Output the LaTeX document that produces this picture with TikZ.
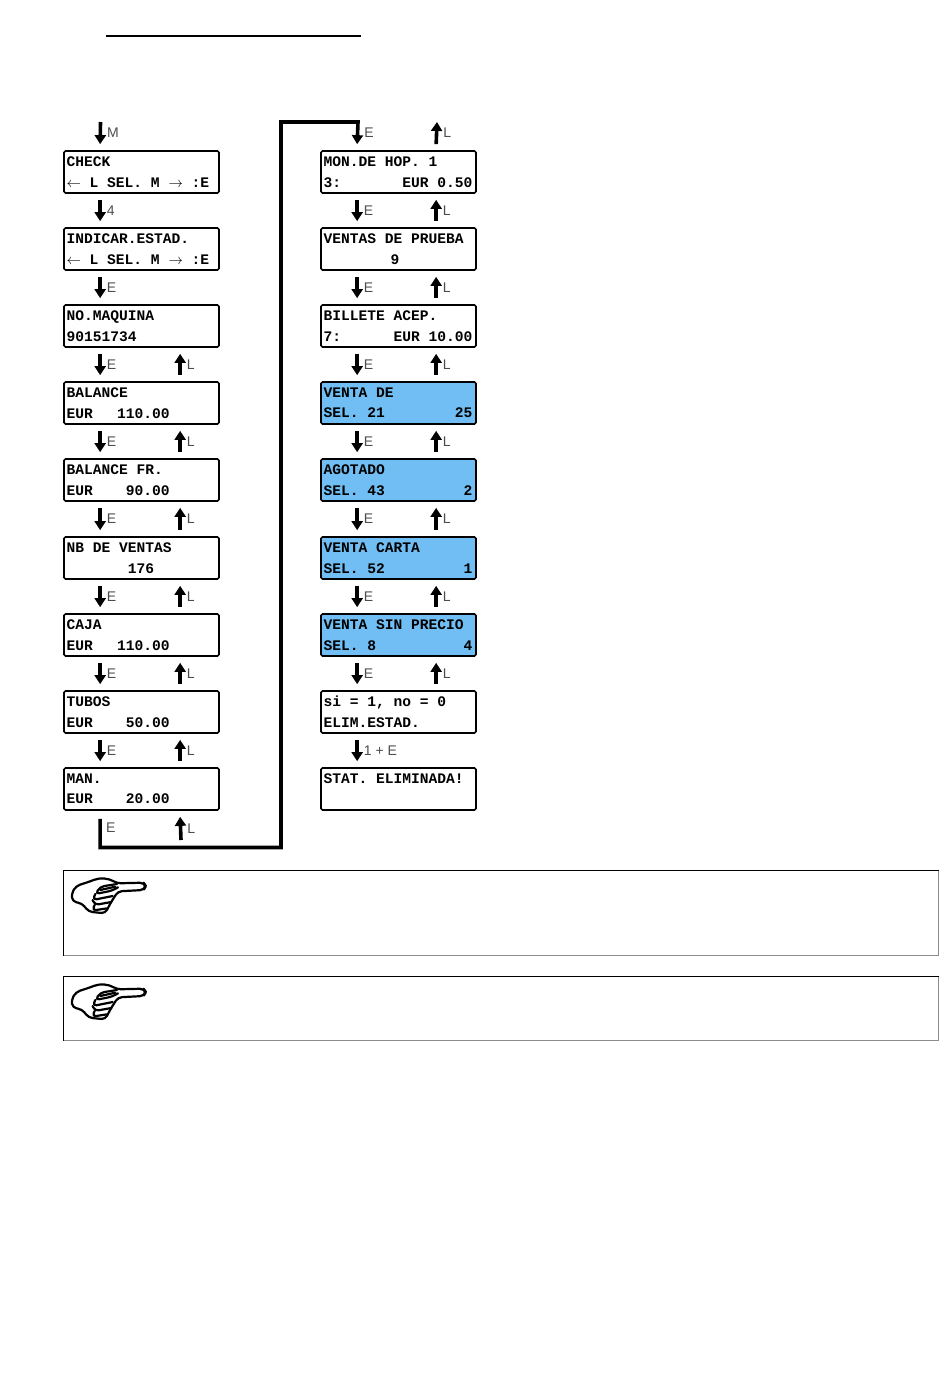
\documentclass[tikz,border=0pt]{standalone}
\usepackage{fontspec}
\setmainfont{Liberation Sans}
\setmonofont{Liberation Mono}[BoldFont={Liberation Mono Bold}]
\usetikzlibrary{calc,arrows.meta}
\definecolor{lcdblue}{RGB}{112,190,243}
\tikzset{
	lcd/.style={draw=black, line width=1.7pt, rounded corners=1.5pt, minimum height=42pt, text width=150pt, inner xsep=2.5pt, inner ysep=0pt, align=left, font=\fontsize{14.6}{20.5}\selectfont\ttfamily\bfseries, execute at begin node={\spaceskip=8.76pt\xspaceskip=8.76pt\relax}},
	lcdfill/.style={lcd, fill=lcdblue},
	flow/.style={draw=black, line width=3.6pt, -{Triangle[width=11pt,length=9pt]}},
	key/.style={font=\fontsize{14}{14}\selectfont, text=black!70, inner sep=0pt, anchor=west},
	note/.style={draw=black!45, line width=0.9pt},
	noteedge/.style={draw=black, line width=0.8pt},
}
\newcommand{\handicon}[2]{
	\begin{scope}[shift={(#1,#2)}, x=0.3333pt, y=-0.3333pt, line width=2.2pt, line join=round, line cap=round, rounded corners=4pt]
		\draw (165,40) .. controls (140,25) and (115,22) .. (85,34) -- (42,48) -- (28,72) -- (32,95) -- (60,100) -- (80,125) -- (130,130) -- (145,100) -- (168,64) -- (245,60) -- (252,48) -- (245,38) -- cycle;
		\draw (165,42) -- (115,50) -- (100,72) -- (150,62) -- (168,52);
		\draw (100,72) -- (92,90) -- (152,78);
		\draw (92,90) -- (98,105) -- (148,96);
		\draw (98,105) -- (90,122) -- (135,115);
		\draw (115,60) -- (160,50);
	\end{scope}
}
\begin{document}
\begin{tikzpicture}[x=1pt, y=1pt]
	\useasboundingbox (0,0) rectangle (950,-1398);
	\draw [line width=2pt] (106,-35.5) -- (361,-35.5);
	% left column
	\node [lcd] (check) at (141.5,-172) {CHECK\\$\leftarrow$ L SEL. M $\rightarrow$ :E};
	\node [lcd] (indicar) at (141.5,-249) {INDICAR.ESTAD.\\$\leftarrow$ L SEL. M $\rightarrow$ :E};
	\node [lcd] (maquina) at (141.5,-326) {NO.MAQUINA\\90151734};
	\node [lcd] (balance) at (141.5,-403) {BALANCE\\EUR~~~\hspace{-2pt}110.00};
	\node [lcd] (balancefr) at (141.5,-480) {BALANCE FR.\\EUR~~~~\hspace{-2pt}90.00};
	\node [lcd] (ventas) at (141.5,-558) {NB DE VENTAS\\~~~~~~~176};
	\node [lcd] (caja) at (141.5,-635) {CAJA\\EUR~~~\hspace{-2pt}110.00};
	\node [lcd] (tubos) at (141.5,-712) {TUBOS\\EUR~~~~\hspace{-2pt}50.00};
	\node [lcd] (man) at (141.5,-789) {MAN.\\EUR~~~~\hspace{-2pt}20.00};
	% right column
	\node [lcd] (mon) at (398.5,-172) {MON.DE HOP. 1\\3:~~~~~~~EUR 0.50};
	\node [lcd] (prueba) at (398.5,-249) {VENTAS DE PRUEBA\\~~~~~~~~\hspace{-3pt}9};
	\node [lcd] (billete) at (398.5,-326) {BILLETE ACEP.\\7:~~~~~~EUR 10.00};
	\node [lcdfill] (ventade) at (398.5,-403) {VENTA DE\\SEL. 21~~~~~~~~25};
	\node [lcdfill] (agotado) at (398.5,-480) {AGOTADO\\SEL. 43~~~~~~~~~2};
	\node [lcdfill] (carta) at (398.5,-558) {VENTA CARTA\\SEL. 52~~~~~~~~~1};
	\node [lcdfill] (precio) at (398.5,-635) {VENTA SIN PRECIO\\SEL. 8~~~~~~~~~~4};
	\node [lcd] (elim) at (398.5,-712) {si = 1, no = 0\\ELIM.ESTAD.};
	\node [lcd] (stat) at (398.5,-789) {STAT. ELIMINADA!\\\mbox{}};
	% free ends
	\coordinate (start) at (100.5,-122);
	\coordinate (leftup) at (181,-840);
	\coordinate (rightup) at (437,-122);
	% arrows going down
	\foreach \a/\b/\k in {check/indicar/4, indicar/maquina/E, maquina/balance/E, balance/balancefr/E, balancefr/ventas/E, ventas/caja/E, caja/tubos/E, tubos/man/E}
		\draw [flow] ($(\a.south west)+(37,-6)$) -- ($(\b.north west)+(37,6)$) node [key, pos=0.5, xshift=5pt] (k\a) {\k};
	\foreach \a/\b/\k in {mon/prueba/E, prueba/billete/E, billete/ventade/E, ventade/agotado/E, agotado/carta/E, carta/precio/E, precio/elim/E, elim/stat/1 + E}
		\draw [flow] ($(\a.south west)+(37,-6)$) -- ($(\b.north west)+(37,6)$) node [key, pos=0.5, xshift=5pt] (k\a) {\k};
	% arrows going up
	\foreach \a/\b in {balance/maquina, balancefr/balance, ventas/balancefr, caja/ventas, tubos/caja, man/tubos}
		\draw [flow] ($(\a.north west)+(117,6)$) -- ($(\b.south west)+(117,-6)$) node [key, pos=0.5, xshift=5pt] (u\a) {L};
	\foreach \a/\b in {prueba/mon, billete/prueba, ventade/billete, agotado/ventade, carta/agotado, precio/carta, elim/precio}
		\draw [flow] ($(\a.north west)+(116,6)$) -- ($(\b.south west)+(116,-6)$) node [key, pos=0.5, xshift=5pt] (u\a) {L};
	\draw [flow] (leftup) -- ($(man.south west)+(117,-6)$) node [key, pos=0.5, xshift=5pt] (uend) {L};
	\draw [flow] ($(mon.north west)+(116,6)$) -- (rightup) node [key, pos=0.5, xshift=5pt] (ustart) {L};
	\draw [flow] (start) -- ($(check.north west)+(37,6)$) node [key, pos=0.5, xshift=5pt] (kstart) {M};
	% the long way round
	\draw [flow] ($(man.south west)+(37,-8)$) |- (281,-847.5) |- (358,-122) -- ($(mon.north west)+(37,6)$) node [key, pos=0.5, xshift=5pt] (kman) {E};
	\node [key] (kturn) at (106,-828) {E};
	% notes
	\node [note, minimum width=875pt, minimum height=85pt, inner sep=0pt] (notea) at (501,-913) {};
	\node [note, minimum width=875pt, minimum height=64pt, inner sep=0pt] (noteb) at (501,-1008.5) {};
	\draw [noteedge] (notea.south west) |- (notea.north east);
	\draw [noteedge] (noteb.south west) |- (noteb.north east);
	\handicon{62}{-870}
	\handicon{62}{-976}
\end{tikzpicture}
\end{document}
